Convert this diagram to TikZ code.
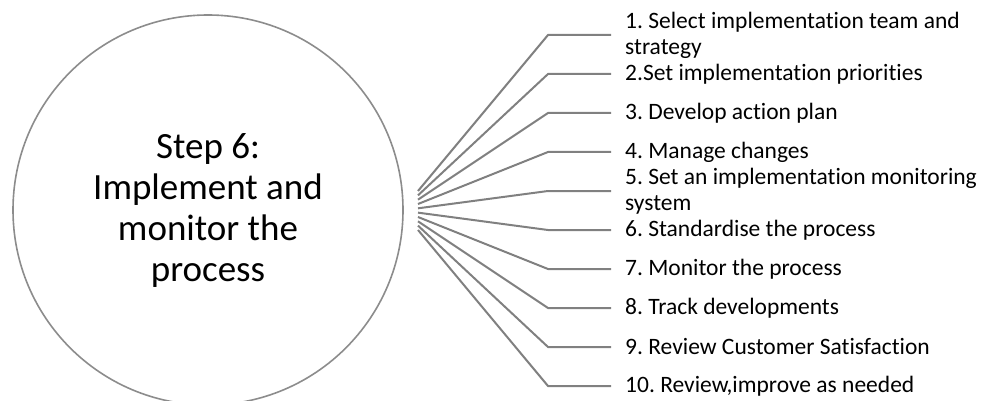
\documentclass[tikz,border=0pt]{standalone}
\usepackage{fontspec}
\setmainfont{Carlito}[Ligatures=NoCommon]
\frenchspacing
\definecolor{linegray}{HTML}{808080}
\definecolor{circgray}{HTML}{8C8C8C}
\tikzset{
  bigcircle/.style={circle, draw=circgray, line width=1.6pt, minimum size=390pt, inner sep=0pt,
    align=center, font=\fontsize{37}{41}\selectfont},
  item/.style={anchor=west, inner xsep=14pt, inner ysep=0pt, align=left,
    font=\fontsize{23.5}{26}\selectfont},
  conn/.style={draw=linegray, line width=2pt}
}
\begin{document}
\begin{tikzpicture}[x=1pt,y=-1pt]
\clip (0,0) rectangle (985,401);
\node[bigcircle] (c) at (208,210) {Step 6:\\Implement and\\monitor the\\process};
\foreach \i/\txt in {1/{1. Select implementation team and\\strategy},
  2/{2.Set implementation priorities},
  3/{3. Develop action plan},
  4/{4. Manage changes},
  5/{5. Set an implementation monitoring\\system},
  6/{6. Standardise the process},
  7/{7. Monitor the process},
  8/{8. Track developments},
  9/{9. Review Customer Satisfaction},
  10/{10. Review,improve as needed}}{
  \pgfmathsetmacro{\yy}{35+39*(\i-1)}
  \pgfmathsetmacro{\ys}{191+4.33*(\i-1)}
  \coordinate (s\i) at (418,\ys);
  \coordinate (b\i) at (548,\yy);
  \node[item] (t\i) at (611,\yy) {\txt};
  \draw[conn] (s\i) -- (b\i) -- (t\i.west);
}
\end{tikzpicture}
\end{document}
